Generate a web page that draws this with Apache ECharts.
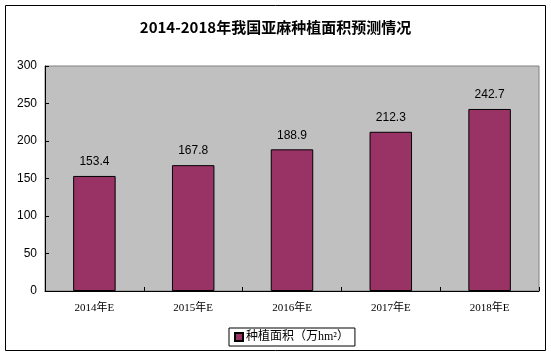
<!DOCTYPE html>
<html><head><meta charset="utf-8">
<script src="https://cdn.jsdelivr.net/npm/echarts@6/dist/echarts.min.js"></script>
<style>html,body{margin:0;padding:0;background:#fff}#c{width:551px;height:356px}</style>
</head><body><div id="c"></div>
<script>
const categories = ['2014年E','2015年E','2016年E','2017年E','2018年E'];
const seriesName = '种植面积（万hm²）';
const values = [153.4, 167.8, 188.9, 212.3, 242.7];
const yMin = 0, yMax = 300, yInterval = 50;

const chart = echarts.init(document.getElementById('c'));
chart.setOption({
  animation: false,
  backgroundColor: '#fff',
  title: {
    text: '2014-2018年我国亚麻种植面积预测情况',
    left: 'center', top: 15,
    textStyle: {fontFamily: 'Noto Sans CJK SC', fontWeight: 'bold', fontSize: 15, color: '#000'}
  },
  graphic: [{
    type: 'rect', shape: {x: 5.5, y: 5.5, width: 540, height: 345},
    style: {fill: 'none', stroke: '#000', lineWidth: 1}, z: 0
  }],
  grid: {left: 45, top: 66, right: 12, bottom: 65, show: true, backgroundColor: '#C0C0C0', borderColor: '#808080', borderWidth: 1},
  legend: {
    data: [seriesName], left: 229, top: 328,
    borderColor: '#000', borderWidth: 1, padding: [3, 6, 3, 5],
    itemWidth: 8, itemHeight: 8, itemGap: 4, icon: 'rect',
    textStyle: {fontFamily: 'Liberation Serif, Noto Sans CJK SC', fontSize: 12, color: '#000', padding: [0,0,0,-2]}
  },
  xAxis: {
    type: 'category', data: categories,
    axisLine: {lineStyle: {color: '#000'}},
    axisTick: {show: true, inside: true, length: 4, lineStyle: {color: '#000'}},
    axisLabel: {fontFamily: 'Liberation Serif, Noto Sans CJK SC', fontSize: 11, color: '#000', margin: 12}
  },
  yAxis: {
    type: 'value', min: yMin, max: yMax, interval: yInterval,
    axisLine: {show: true, lineStyle: {color: '#000'}},
    axisTick: {show: true, inside: true, length: 4, lineStyle: {color: '#000'}},
    splitLine: {show: false},
    axisLabel: {fontFamily: 'Liberation Sans, Arial', fontSize: 12, color: '#000', margin: 8}
  },
  series: [{
    name: seriesName, type: 'bar', data: values, barWidth: '43%',
    itemStyle: {color: '#993366', borderColor: '#000', borderWidth: 1},
    label: {show: true, position: 'top', distance: 8, fontFamily: 'Liberation Sans, Arial', fontSize: 12, color: '#000', formatter: p => p.value.toFixed(1)}
  }]
});
</script></body></html>
